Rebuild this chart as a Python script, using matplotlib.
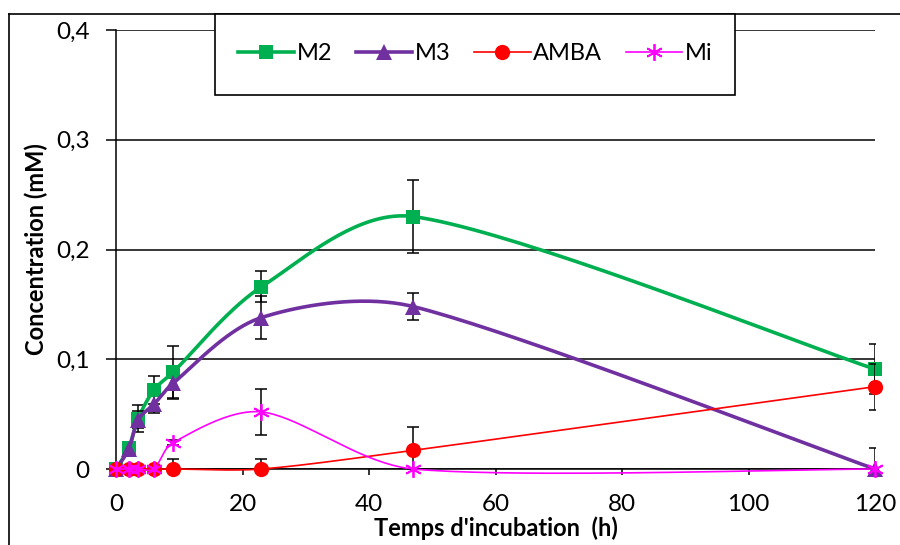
import numpy as np
import matplotlib.pyplot as plt
from matplotlib.lines import Line2D
from matplotlib.patches import Rectangle

# sampling times (h)
temps = [0, 2, 3.5, 6, 9, 23, 47, 120]

# concentrations (mM) and standard deviations
m2 = [0, 0.019, 0.046, 0.072, 0.088, 0.166, 0.230, 0.091]
m2_err = [0, 0.003, 0.012, 0.013, 0.024, 0.014, 0.033, 0.023]
m3 = [0, 0.018, 0.045, 0.059, 0.078, 0.138, 0.148, 0]
m3_err = [0, 0.003, 0.008, 0.008, 0.013, 0.020, 0.012, 0.019]
amba = [0, 0, 0, 0, 0, 0, 0.017, 0.075]
amba_err = [0, 0, 0, 0, 0.009, 0.009, 0.021, 0.021]
mi = [0, 0, 0, 0, 0.024, 0.052, 0, 0]
mi_err = [0, 0, 0, 0, 0.002, 0.021, 0, 0]

plt.rcParams['font.family'] = ['Lato', 'DejaVu Sans']

# pixels per data unit, used so the smoothing works in screen space
SX = 759 / 120
SY = 439 / 0.4


def smooth(x, y, n=40):
    # excel style smoothed line: bezier segments through the points
    p = np.column_stack([np.asarray(x, float) * SX, np.asarray(y, float) * SY])
    p = np.vstack([p[0], p, p[-1]])
    t = np.linspace(0, 1, n)[:, None]
    out = []
    for i in range(1, len(p) - 2):
        seg = np.linalg.norm(p[i + 1] - p[i])
        d1 = (p[i + 1] - p[i - 1]) / 6
        d2 = (p[i + 2] - p[i]) / 6
        for d in (d1, d2):
            ln = np.linalg.norm(d)
            if ln > seg / 3 and ln > 0:
                d *= (seg / 3) / ln
        c1 = p[i] + d1
        c2 = p[i + 1] - d2
        b = (1 - t) ** 3 * p[i] + 3 * (1 - t) ** 2 * t * c1 + 3 * (1 - t) * t ** 2 * c2 + t ** 3 * p[i + 1]
        out.append(b)
    b = np.vstack(out)
    return b[:, 0] / SX, b[:, 1] / SY


fig = plt.figure(figsize=(9, 5.45), dpi=100)
ax = fig.add_axes([116 / 900, 1 - 469 / 545, (875 - 116) / 900, (469 - 30) / 545])

series = [
    (m2, m2_err, 'M2', '#00B050', 's', 10.5, 2.6),
    (m3, m3_err, 'M3', '#7030A0', '^', 11, 2.6),
    (amba, amba_err, 'AMBA', '#FF0000', 'o', 11, 1.2),
    (mi, mi_err, 'Mi', '#FF00FF', (6, 2, 0), 12, 1.2),
]

handles = []
for k, (vals, err, name, col, mk, ms, lw) in enumerate(series):
    ax.errorbar(temps, vals, yerr=err, fmt='none', ecolor='black', elinewidth=1.1,
                capsize=4.5, capthick=1.1, zorder=2 + k)
    sx, sy = smooth(temps, vals)
    ax.plot(sx, sy, color=col, lw=lw, zorder=3 + k, clip_on=False)
    mew = 1.3 if name == 'Mi' else 0
    ax.plot(temps, vals, linestyle='none', marker=mk, ms=ms, color=col,
            mec=col, mew=mew, zorder=3.5 + k, clip_on=False)
    handles.append(Line2D([], [], color=col, lw=lw, marker=mk, ms=ms, mec=col, mew=mew))

ax.set_xlim(0, 120)
ax.set_ylim(0, 0.4)
ax.set_xticks(np.arange(0, 121, 20))
ax.set_yticks([0, 0.1, 0.2, 0.3, 0.4])
ax.set_yticklabels(['0', '0,1', '0,2', '0,3', '0,4'])
ax.yaxis.grid(True, color='black', lw=1.1)
ax.set_axisbelow(True)
for s in ['top', 'right']:
    ax.spines[s].set_visible(False)
ax.spines['left'].set_linewidth(1.1)
ax.spines['bottom'].set_linewidth(1.1)
ax.tick_params(axis='y', direction='out', length=7, width=1.1, labelsize=17.5, pad=12)
ax.tick_params(axis='x', direction='out', length=4, width=1.1, labelsize=17.5, pad=14)
ax.set_xlabel("Temps d'incubation  (h)", fontsize=17, fontweight='bold', labelpad=1)
ax.set_ylabel('Concentration (mM)', fontsize=17, fontweight='bold', labelpad=6)

# outer chart frame
fig.add_artist(Line2D([9 / 900, 1], [1 - 14 / 545, 1 - 14 / 545], color='black', lw=1.2,
                      transform=fig.transFigure))
fig.add_artist(Line2D([9 / 900, 9 / 900], [0, 1 - 14 / 545], color='black', lw=1.2,
                      transform=fig.transFigure))

# legend box
fig.add_artist(Rectangle((215 / 900, 1 - 95 / 545), 520 / 900, 81 / 545, transform=fig.transFigure,
                         facecolor='white', edgecolor='black', lw=1.2, zorder=10))
fig.legend(handles, ['M2', 'M3', 'AMBA', 'Mi'], loc='center', bbox_to_anchor=(475 / 900, 1 - 54 / 545),
           ncol=4, frameon=False, fontsize=17, handlelength=2.4, handletextpad=0.1,
           columnspacing=1.0).set_zorder(11)

fig.savefig('out.png', dpi=100)
